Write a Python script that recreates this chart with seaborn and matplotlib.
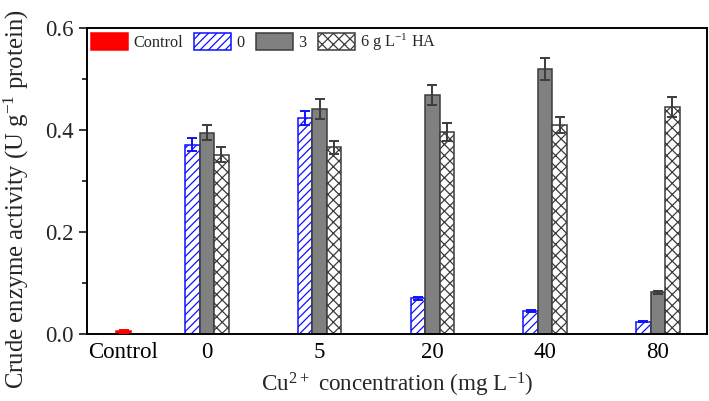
import numpy as np
import pandas as pd
import matplotlib
matplotlib.use("Agg")
import matplotlib.pyplot as plt
import seaborn as sns
from matplotlib.ticker import MultipleLocator, FormatStrFormatter

# values
conc_labels = ["0", "5", "20", "40", "80"]
series_names = ["0", "3", "6 g L$^{-1}$ HA"]
act_ha0 = [0.371, 0.423, 0.070, 0.045, 0.024]
act_ha3 = [0.395, 0.441, 0.469, 0.520, 0.082]
act_ha6 = [0.352, 0.366, 0.396, 0.410, 0.445]
err_ha0 = [0.013, 0.014, 0.003, 0.002, 0.001]
err_ha3 = [0.015, 0.020, 0.020, 0.022, 0.003]
err_ha6 = [0.014, 0.012, 0.018, 0.016, 0.020]
control_val = [0.005]
control_err = [0.002]

sns.set_style("ticks")
plt.rcParams["font.family"] = ["Liberation Serif", "DejaVu Serif"]
plt.rcParams["mathtext.fontset"] = "custom"
plt.rcParams["mathtext.rm"] = "Liberation Serif"
plt.rcParams["mathtext.default"] = "regular"
plt.rcParams["hatch.linewidth"] = 0.9

fig = plt.figure(figsize=(7.09, 4.01), dpi=100)
ax = fig.add_axes([0.1227, 0.167, 0.8743, 0.763])

# layout of the x axis (control sits closer to the first group)
group_pos = np.arange(1, len(conc_labels) + 1)
control_pos = 0.26

rows = []
for i in range(len(conc_labels)):
    for name, vals in zip(series_names, [act_ha0, act_ha3, act_ha6]):
        rows.append({"pos": group_pos[i], "series": name, "value": vals[i]})
df = pd.DataFrame(rows)

sns.barplot(x=[control_pos], y=control_val, native_scale=True, width=0.129,
            color="red", errorbar=None, ax=ax)
sns.barplot(data=df, x="pos", y="value", hue="series", hue_order=series_names,
            native_scale=True, dodge=True, width=0.386, errorbar=None,
            palette=["white", "#808080", "white"], legend=False, ax=ax)

styles = [
    dict(fc="red", ec="red", hatch=None, ecol="red"),
    dict(fc="white", ec="#1010ff", hatch="////", ecol="#1010ff"),
    dict(fc="#808080", ec="#3c3c3c", hatch=None, ecol="#3c3c3c"),
    dict(fc="white", ec="#3c3c3c", hatch="xxx", ecol="#3c3c3c"),
]
errs = [control_err, err_ha0, err_ha3, err_ha6]
for cont, st, er in zip(ax.containers, styles, errs):
    for b in cont:
        b.set_facecolor(st["fc"])
        b.set_edgecolor(st["ec"])
        b.set_linewidth(1.1)
        if st["hatch"]:
            b.set_hatch(st["hatch"])
    xs = [b.get_x() + b.get_width() / 2 for b in cont]
    ys = [b.get_height() for b in cont]
    ax.errorbar(xs, ys, yerr=er, fmt="none", ecolor=st["ecol"], elinewidth=1.4,
                capsize=3.6, capthick=1.4, zorder=3)

ax.set_xlim(-0.064, 5.435)
ax.set_ylim(0, 0.6)
ax.set_xticks([control_pos] + list(group_pos))
ax.set_xticklabels(["Control"] + conc_labels)
ax.yaxis.set_major_locator(MultipleLocator(0.2))
ax.yaxis.set_minor_locator(MultipleLocator(0.1))
ax.yaxis.set_major_formatter(FormatStrFormatter("%.1f"))
ax.tick_params(axis="x", length=0, labelsize=16.5, pad=6, colors="black")
ax.tick_params(axis="y", which="major", direction="out", length=6, width=1.3, labelsize=16.5)
ax.tick_params(axis="y", which="minor", direction="out", length=3.5, width=1.3)
for sp in ax.spines.values():
    sp.set_linewidth(1.4)
    sp.set_color("black")

ax.set_xlabel("Cu$^{2+}$ concentration (mg L$^{-1}$)", fontsize=16.7, labelpad=5)
ax.set_ylabel("Crude enzyme activity (U g$^{-1}$ protein)", fontsize=17.8)
ax.yaxis.set_label_coords(-0.09, 0.44)

ax.legend(handles=ax.containers[:4], labels=["Control"] + series_names,
          loc="center left", bbox_to_anchor=(0.006, 0.954), ncol=4,
          frameon=False, fontsize=11.7, handlelength=2.3, handleheight=1.25,
          handletextpad=0.3, columnspacing=0.7, borderpad=0, borderaxespad=0)

fig.savefig("out.png", dpi=100)
